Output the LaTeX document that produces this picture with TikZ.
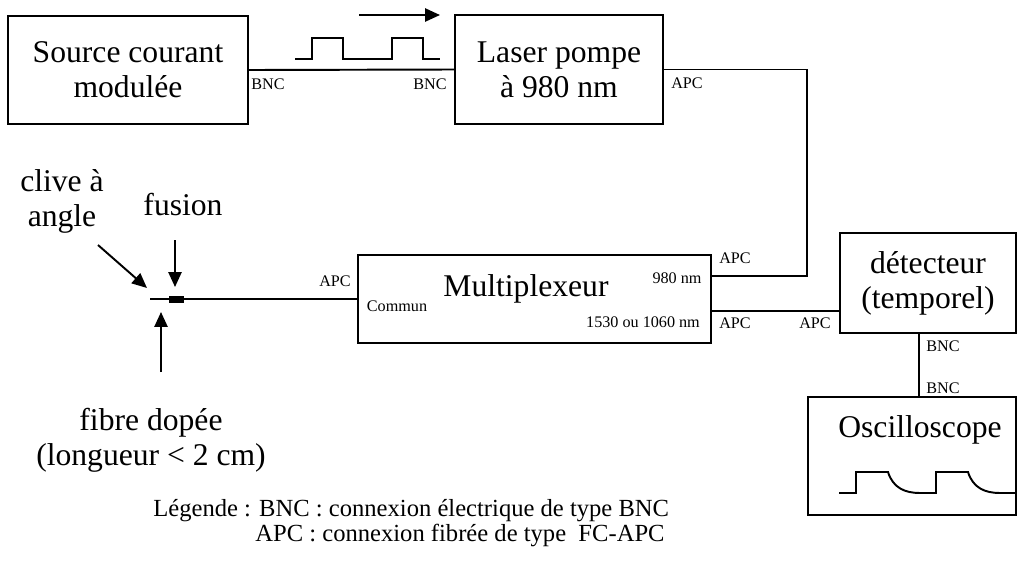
\documentclass[tikz,border=0pt]{standalone}
\usepackage{fontspec}
\setmainfont{Liberation Serif}
\usetikzlibrary{arrows.meta, positioning}

\tikzset{
  box/.style={draw, line width=1.4pt, align=center, inner sep=0pt, font=\fontsize{18}{20}\selectfont},
  bigtext/.style={align=center, inner sep=0pt, font=\fontsize{18}{20}\selectfont},
  port/.style={inner sep=0pt, font=\fontsize{9.2}{11}\selectfont},
  legend/.style={anchor=west, inner sep=0pt, font=\fontsize{14}{16}\selectfont},
  wire/.style={line width=1.1pt},
  pointer/.style={line width=1.1pt, -{Triangle[length=8.5pt, width=7.5pt]}}
}

\begin{document}
\begin{tikzpicture}[x=0.02cm, y=-0.02cm]
  \useasboundingbox (0,0) rectangle (1024,572);

  % appareils
  \node[box, minimum width=4.8cm, minimum height=2.16cm] (source) at (128,70) {Source courant\\modulée};
  \node[box, minimum width=4.16cm, minimum height=2.18cm] (laser) at (559,69.5) {Laser pompe\\à 980 nm};
  \node[box, minimum width=7.06cm, minimum height=1.76cm] (mux) at (534.5,299) {};
  \node[bigtext] (muxlabel) at (526,289) {Multiplexeur};
  \node[box, minimum width=3.52cm, minimum height=2cm] (detector) at (928,283) {détecteur\\(temporel)};
  \node[box, minimum width=4.16cm, minimum height=2.36cm] (scope) at (912,456) {};
  \node[bigtext] (scopelabel) at (920,430) {Oscilloscope};

  % ports du multiplexeur
  \coordinate (mux980) at (711,276);
  \coordinate (mux1530) at (711,311);
  \coordinate (pumpturn) at (807,276);
  \coordinate (bncout) at (919,333);

  % liaisons
  \draw[wire] (source.east) -- (laser.west);
  \draw[wire] (laser.east) -| (pumpturn) -- (mux980);
  \draw[wire] (mux1530) -- (mux1530 -| detector.west);
  \draw[wire] (bncout) -- (bncout |- scope.north);

  % fibre dopee
  \coordinate (cleave) at (150,299);
  \draw[wire] (cleave) -- (mux.west);
  \node[fill, minimum width=0.3cm, minimum height=0.14cm, inner sep=0pt] (splice) at (176,299) {};

  % fleches et legendes de la fibre
  \node[bigtext] (clivelabel) at (62,201) {clive à\\angle};
  \node[bigtext] (fusionlabel) at (183,205) {fusion};
  \node[bigtext] (fibrelabel) at (151,440) {fibre dopée\\(longueur < 2 cm)};
  \coordinate (clivefrom) at (98,245);
  \coordinate (cliveto) at (147,288);
  \coordinate (fusionfrom) at (175,240);
  \coordinate (fusionto) at (175,287);
  \coordinate (fibrefrom) at (161,372);
  \coordinate (fibreto) at (161,312);
  \draw[pointer] (clivefrom) -- (cliveto);
  \draw[pointer] (fusionfrom) -- (fusionto);
  \draw[pointer] (fibrefrom) -- (fibreto);

  % connecteurs
  \node[port] (bncsource) at (268,84) {BNC};
  \node[port] (bnclaser) at (430,84) {BNC};
  \node[port] (apclaser) at (687,83) {APC};
  \node[port] (apccommun) at (335,281) {APC};
  \node[port] (commun) at (397,306) {Commun};
  \node[port] (nm980) at (677,278) {980 nm};
  \node[port] (nm1530) at (643,322) {1530 ou 1060 nm};
  \node[port] (apc980) at (735,258) {APC};
  \node[port] (apc1530) at (735,323) {APC};
  \node[port] (apcdetector) at (815,323) {APC};
  \node[port] (bncdetector) at (943,346) {BNC};
  \node[port] (bncscope) at (943,388) {BNC};

  % signaux
  \coordinate (trainstart) at (359,15);
  \coordinate (trainend) at (440,15);
  \draw[pointer] (trainstart) -- (trainend);
  \draw[wire] (295,59) -- (312,59) -- (312,38) -- (343,38) -- (343,59) -- (392,59)
    -- (392,38) -- (423,38) -- (423,59) -- (440,59);
  \draw[wire] (839,493) -- (856,493) -- (856,472) -- (888,472)
    .. controls (893,488) and (905,493) .. (920,493) -- (936,493) -- (936,472) -- (968,472)
    .. controls (973,488) and (985,493) .. (1000,493) -- (1015,493);

  % legende
  \node[legend] (legendbnc) at (153,511) {Légende : BNC : connexion électrique de type BNC};
  \node[legend] (legendapc) at (255,535) {APC : connexion fibrée de type\ \ FC-APC};
\end{tikzpicture}
\end{document}
